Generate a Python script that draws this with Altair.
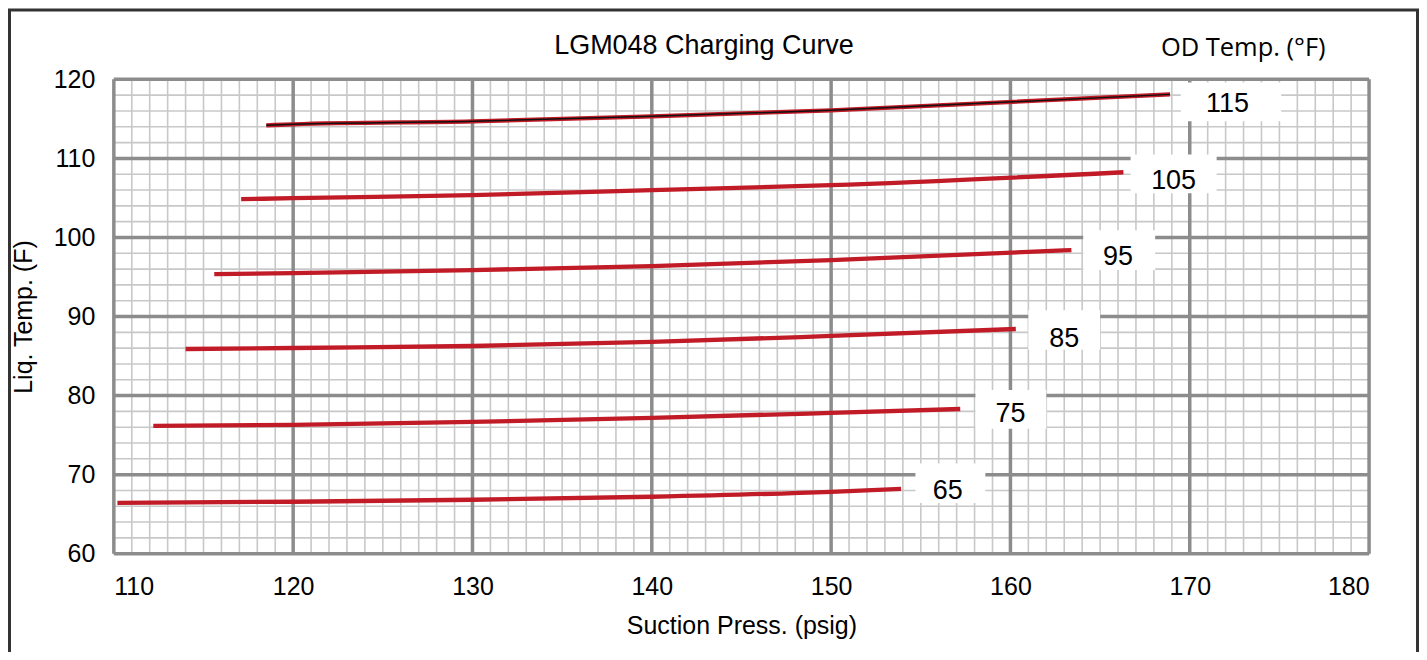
import altair as alt
import pandas as pd

# ---- data ----
od_temps = ["65", "75", "85", "95", "105", "115"]
press_65 = [110.2, 120, 130, 140, 150, 153.9]
liq_65 = [66.44, 66.57, 66.82, 67.2, 67.83, 68.2]
press_75 = [112.2, 120, 130, 140, 150, 157.2]
liq_75 = [76.17, 76.29, 76.67, 77.18, 77.81, 78.3]
press_85 = [114.0, 120, 130, 140, 150, 160.3]
liq_85 = [85.89, 86.02, 86.27, 86.78, 87.54, 88.42]
press_95 = [115.6, 120, 130, 140, 150, 163.4]
liq_95 = [95.37, 95.49, 95.87, 96.38, 97.13, 98.4]
press_105 = [117.1, 120, 130, 140, 150, 166.3]
liq_105 = [104.84, 104.97, 105.35, 105.98, 106.61, 108.25]
press_115 = [118.5, 120, 130, 140, 150, 168.9]
liq_115 = [114.19, 114.31, 114.69, 115.32, 116.08, 118.1]

label_x = [156.5, 160.0, 163.0, 166.0, 169.1, 172.1]
label_y = [67.96, 77.7, 87.2, 97.5, 107.1, 116.9]
box_x1 = [154.7, 158.05, 161.0, 164.06, 166.7, 169.5]
box_x2 = [158.6, 162.0, 165.0, 168.07, 171.5, 175.1]
box_y1 = [66.4, 75.8, 85.8, 95.9, 105.6, 114.7]
box_y2 = [71.4, 80.7, 90.8, 100.9, 110.5, 119.6]

x_ticks = [110, 120, 130, 140, 150, 160, 170, 180]
y_ticks = [60, 70, 80, 90, 100, 110, 120]
minor_x = list(range(110, 181, 1))
minor_y = list(range(60, 121, 2))

title_text = "LGM048 Charging Curve"
legend_title = "OD Temp. (°F)"
x_title = "Suction Press. (psig)"
y_title = "Liq. Temp. (F)"

# ---- tables ----
series = {
    "65": (press_65, liq_65), "75": (press_75, liq_75), "85": (press_85, liq_85),
    "95": (press_95, liq_95), "105": (press_105, liq_105), "115": (press_115, liq_115),
}
rows = []
for k, (xs, ys) in series.items():
    for i, (a, b) in enumerate(zip(xs, ys)):
        rows.append({"s": k, "x": a, "y": b, "o": i})
curves = pd.DataFrame(rows)
top_curve = curves[curves.s == "115"]
labels = pd.DataFrame({"t": od_temps, "x": label_x, "y": label_y,
                       "x1": box_x1, "x2": box_x2, "y1": box_y1, "y2": box_y2})
gx_minor = pd.DataFrame({"x": minor_x})
gy_minor = pd.DataFrame({"y": minor_y})
gx_major = pd.DataFrame({"x": x_ticks})
gy_major = pd.DataFrame({"y": y_ticks})

FONT = "Liberation Sans"
xs_ = alt.Scale(domain=[110, 180], nice=False, zero=False)
ys_ = alt.Scale(domain=[60, 120], nice=False, zero=False)
xaxis = alt.Axis(values=x_ticks, grid=False, ticks=False, domain=False, title=x_title,
                 labelFontSize=25, labelPadding=21, titleFontSize=25, titlePadding=14,
                 labelFont=FONT, titleFont=FONT, labelColor="#000", titleColor="#000",
                 titleFontWeight="normal")
yaxis = alt.Axis(values=y_ticks, grid=False, ticks=False, domain=False, title=y_title,
                 labelFontSize=25, labelPadding=19, titleFontSize=25, titlePadding=17,
                 labelFont=FONT, titleFont=FONT, labelColor="#000", titleColor="#000",
                 titleFontWeight="normal")
X = lambda f="x": alt.X(f + ":Q", scale=xs_, axis=xaxis)
Y = lambda f="y": alt.Y(f + ":Q", scale=ys_, axis=yaxis)

minor_v = alt.Chart(gx_minor).mark_rule(color="#c8c8c8", strokeWidth=1.6).encode(x=X())
minor_h = alt.Chart(gy_minor).mark_rule(color="#c8c8c8", strokeWidth=1.6).encode(y=Y())
major_v = alt.Chart(gx_major).mark_rule(color="#8c8c8c", strokeWidth=3.5).encode(x=X())
major_h = alt.Chart(gy_major).mark_rule(color="#8c8c8c", strokeWidth=3.5).encode(y=Y())

lines = alt.Chart(curves).mark_line(color="#c01b26", strokeWidth=4.3, interpolate="monotone").encode(
    x=X(), y=Y(), detail="s:N", order="o:Q")
black = alt.Chart(top_curve).mark_line(color="#111111", strokeWidth=1.5, interpolate="monotone").encode(
    x=X(), y=Y(), order="o:Q")

boxes = alt.Chart(labels).mark_rect(color="white").encode(
    x=X("x1"), x2="x2:Q", y=Y("y1"), y2="y2:Q")
texts = alt.Chart(labels).mark_text(font=FONT, fontSize=27, color="#000", baseline="middle",
                                    align="center").encode(x=X(), y=Y(), text="t:N")

frame_df = pd.DataFrame({"a": [0]})
frame = alt.Chart(frame_df).mark_rect(fill=None, stroke="#333333", strokeWidth=3).encode(
    x=alt.value(-104.5), x2=alt.value(1305.5), y=alt.value(-69.5), y2=alt.value(700))
title = alt.Chart(frame_df).mark_text(font=FONT, fontSize=27, color="#000", align="center",
                                      baseline="middle").encode(
    x=alt.value(591), y=alt.value(-33), text=alt.value(title_text))
legend_t = alt.Chart(frame_df).mark_text(font="Open Sans", fontSize=25.5, color="#000", align="center",
                                         baseline="middle").encode(
    x=alt.value(1131), y=alt.value(-31), text=alt.value(legend_title))

chart = alt.layer(minor_v, minor_h, major_v, major_h, lines, black, boxes, texts,
                  title, legend_t, frame).properties(
    width=1257, height=475,
    autosize=alt.AutoSizeParams(type="none"),
    padding={"left": 106, "top": 71, "right": 50, "bottom": 98},
).configure_view(stroke=None).configure(background="white")

chart.save("out.html", embed_options={"renderer": "svg", "actions": False})
